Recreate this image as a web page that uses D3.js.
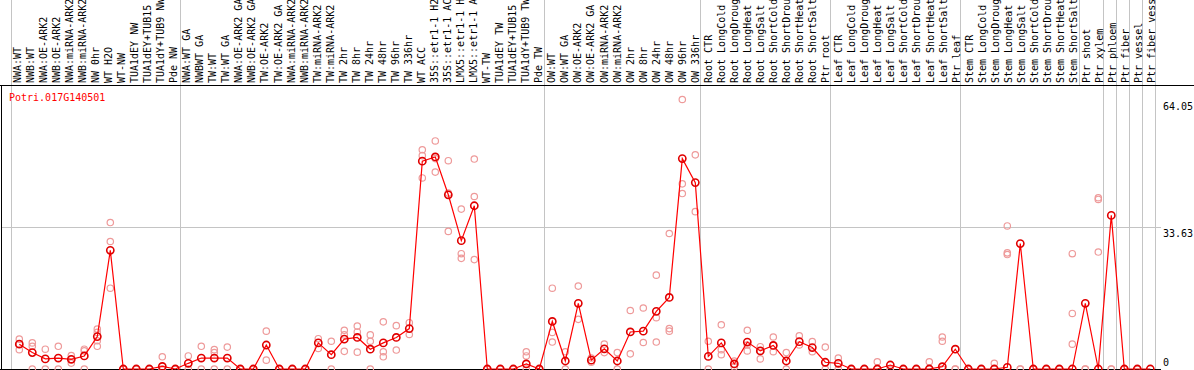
<!DOCTYPE html>
<html>
<head>
<meta charset="utf-8">
<script src="https://cdn.jsdelivr.net/npm/d3@7"></script>
<style>
body { margin:0; background:#fff; }
text { font-family:"DejaVu Sans Mono", monospace; font-size:10px; }
</style>
</head>
<body>
<script>
var geneName = "Potri.017G140501";

var categories = ["NWA:WT","NWB:WT","NWA:OE-ARK2","NWB:OE-ARK2","NWA:miRNA-ARK2","NWB:miRNA-ARK2",
	"NW 0hr","WT H2O","WT-NW","TUA1dEY NW","TUA1dEY+TUB15 NW","TUA1dY+TUB9 NW","Pde NW",
	"NWA:WT GA","NWBWT GA","TW:WT","TW:WT GA","NWA:OE-ARK2 GA","NWB:OE-ARK2 GA","TW:OE-ARK2",
	"TW:OE-ARK2 GA","NWA:miRNA-ARK2 GA","NWB:miRNA-ARK2 GA","TW:miRNA-ARK2","TW:miRNA-ARK2 GA",
	"TW 2hr","TW 8hr","TW 24hr","TW 48hr","TW 96hr","TW 336hr","WT ACC","35S::etr1-1 H2O",
	"35S::etr1-1 ACC","LMX5::etr1-1 H2O","LMX5::etr1-1 ACC","WT-TW","TUA1dEY TW","TUA1dEY+TUB15 TW",
	"TUA1dY+TUB9 TW","Pde TW",
	"OW:WT","OW:WT GA","OW:OE-ARK2","OW:OE-ARK2 GA","OW:miRNA-ARK2","OW:miRNA-ARK2 GA",
	"OW 2hr","OW 8hr","OW 24hr","OW 48hr","OW 96hr","OW 336hr",
	"Root CTR","Root LongCold","Root LongDrought","Root LongHeat","Root LongSalt","Root ShortCold",
	"Root ShortDrought","Root ShortHeat","Root ShortSalt","Ptr root",
	"Leaf CTR","Leaf LongCold","Leaf LongDrought","Leaf LongHeat","Leaf LongSalt","Leaf ShortCold",
	"Leaf ShortDrought","Leaf ShortHeat","Leaf ShortSalt","Ptr leaf",
	"Stem CTR","Stem LongCold","Stem LongDrought","Stem LongHeat","Stem LongSalt","Stem ShortCold",
	"Stem ShortDrought","Stem ShortHeat","Stem ShortSalt","Ptr shoot",
	"Ptr xylem","Ptr phloem","Ptr fiber","Ptr vessel","Ptr fiber vessel"];

// mean expression per sample
var means = [5.9,3.9,2.4,2.6,2.3,3.1,7.7,28.2,0,0,0,0.6,0,
	1.35,2.6,2.6,2.6,0,0,5.7,0,0,0,6.2,3.4,7.1,7.5,4.7,6.2,7.5,9.6,49.4,50.4,41.4,30.5,38.8,0,0,0,1.2,0,
	11.3,1.9,15.6,2.1,4.8,1.9,8.8,9.0,13.7,17.0,50.0,44.3,
	3.0,6.2,1.2,6.4,4.3,5.6,1.9,6.5,5.1,1.6,
	1.35,0,0,0,0.95,0,0,0,0.55,4.7,
	0,0,0,0.4,29.8,0,0,0,0,15.6,
	0,36.5,0,0,0];

// replicate values per sample
var replicates = [[7.1,5.9,4.6],[6.2,5.4,0],[4.7,0],[5.4,0],[3.2,2.3,1.4],[4.7,4.3,0],[9.5,8.7,6.7,5.4],
	[34.8,30.3,19.2],[0,0],[0,0],[0,0],[2.9,0,0],[0,0],
	[3.1,0],[5.4,0],[4.6,3.9,0],[5.2,0],[0,0],[0,0],[9.0,2.1],[0,0],[0,0],[0,0],[7.2,4.9],[6.6,0],
	[9.2,8.1,4.2],[10.2,8.8,4.0],[8.1,6.6,0],[11.2,4.1,2.9],[10.3,4.5],[11.0,8.2],
	[52.1,50.7,45.4],[54.2,50.0,46.8],[49.5,41.8,32.7],[38.0,27.4,26.3],[49.9,41.0,26.0],
	[0,0],[0,0],[0,0],[4.1,3.1,0],[0,0],
	[19.2,8.7,6.4],[4.1,0],[19.7,11.8],[2.6,1.6],[5.9,3.9],[3.9,0],[13.9,3.6],[14.5,6.3],
	[22.3,12.2,6.4],[32.2,9.6,9.0],[64.05,44.0,41.7],[50.9,37.4],
	[6.6,0],[10.5,4.6,3.4],[1.9,1.2,0.5],[9.2,5.7,4.3],[5.3,4.3,2.4],[7.6,5.6,4.1],[3.9,0],
	[7.9,5.7],[6.5,4.1],[5.2,0],
	[2.6,0],[0,0],[0,0],[1.7,0],[0,0],[0,0],[0,0],[1.7,0],[7.6,6.6,0],[0,0],
	[0,0],[0,0],[1.35,0],[34.0,27.6,27.2],[0,0],[0,0],[0,0],[0,0],[27.4,13.2,5.9],
	[0,0],[40.7,40.3,27.8],[0,0],[0,0],[0,0]];

// first sample of each group (plot dividers), label-only divider
var groupStarts = [0,13,41,53,63,73,84,85,86,87,88];
var labelOnlyStarts = [82];

var yTicks = [64.05, 33.63, 0];
var yGrid = [33.63];

var w = 1194, h = 370;
var top_ = 85, bottom = 369, right = 1161;
var maxChars = 14; // label band only holds this many characters

var svg = d3.select("body").append("svg")
	.attr("width", w)
	.attr("height", h);

var idx = d3.range(categories.length);
var x = d3.scalePoint().domain(idx).range([19.3, 1150.3]);
var lx = d3.scalePoint().domain(idx).range([20.7, 1155.2]);
var y = d3.scaleLinear().domain([0, 64.05]).range([bottom, 99.5]);

function divX(i) { return x(0) + i * x.step() - 8; }

// gray grid
svg.selectAll("line.vdiv")
	.data(groupStarts)
	.enter()
	.append("line")
	.attr("class", "vdiv")
	.attr("x1", function(d){return divX(d);})
	.attr("x2", function(d){return divX(d);})
	.attr("y1", 0)
	.attr("y2", bottom)
	.attr("stroke", "#c4c4c4")
	.attr("shape-rendering", "crispEdges");

svg.selectAll("line.ldiv")
	.data(labelOnlyStarts)
	.enter()
	.append("line")
	.attr("class", "ldiv")
	.attr("x1", function(d){return lx(d) - 10;})
	.attr("x2", function(d){return lx(d) - 10;})
	.attr("y1", 0)
	.attr("y2", top_)
	.attr("stroke", "#c4c4c4")
	.attr("shape-rendering", "crispEdges");

svg.selectAll("line.hgrid")
	.data(yGrid)
	.enter()
	.append("line")
	.attr("class", "hgrid")
	.attr("x1", 1)
	.attr("x2", right)
	.attr("y1", function(d){return Math.round(y(d)) + 0.5;})
	.attr("y2", function(d){return Math.round(y(d)) + 0.5;})
	.attr("stroke", "#c4c4c4");

// frame
svg.append("line").attr("x1", 0).attr("x2", w).attr("y1", top_ + 0.5).attr("y2", top_ + 0.5).attr("stroke", "#000");
svg.append("line").attr("x1", 1.5).attr("x2", 1.5).attr("y1", top_).attr("y2", h).attr("stroke", "#000");
svg.append("line").attr("x1", 0).attr("x2", right).attr("y1", bottom + 0.5).attr("y2", bottom + 0.5).attr("stroke", "#000");

// sample labels
svg.selectAll("text.cat")
	.data(categories)
	.enter()
	.append("text")
	.attr("class", "cat")
	.attr("transform", function(d, i){return "translate(" + lx(i) + "," + (top_ - 2) + ") rotate(-90)";})
	.attr("fill", "#000")
	.text(function(d){return d.slice(0, maxChars);});

// replicates
var reps = [];
replicates.forEach(function(r, i){ r.forEach(function(v){ reps.push({i:i, v:v}); }); });
svg.selectAll("circle.rep")
	.data(reps)
	.enter()
	.append("circle")
	.attr("class", "rep")
	.attr("cx", function(d){return x(d.i);})
	.attr("cy", function(d){return y(d.v);})
	.attr("r", 3.2)
	.attr("fill", "none")
	.attr("stroke", "#ee9a9a")
	.attr("stroke-width", 1.2);

// mean line
var line = d3.line()
	.x(function(d, i){return x(i);})
	.y(function(d){return y(d);});
svg.append("path")
	.datum(means)
	.attr("d", line)
	.attr("fill", "none")
	.attr("stroke", "#ff0000")
	.attr("stroke-width", 1.2);

svg.selectAll("circle.mean")
	.data(means)
	.enter()
	.append("circle")
	.attr("class", "mean")
	.attr("cx", function(d, i){return x(i);})
	.attr("cy", function(d){return y(d);})
	.attr("r", 3.6)
	.attr("fill", "none")
	.attr("stroke", "#e00000")
	.attr("stroke-width", 1.6);

// y labels
svg.selectAll("text.ytick")
	.data(yTicks)
	.enter()
	.append("text")
	.attr("class", "ytick")
	.attr("x", 1163)
	.attr("y", function(d){return Math.min(y(d) + 10, 366);})
	.attr("fill", "#000")
	.text(function(d){return d;});

svg.append("text")
	.attr("x", 9)
	.attr("y", 101)
	.attr("fill", "#ff0000")
	.text(geneName);
</script>
</body>
</html>
